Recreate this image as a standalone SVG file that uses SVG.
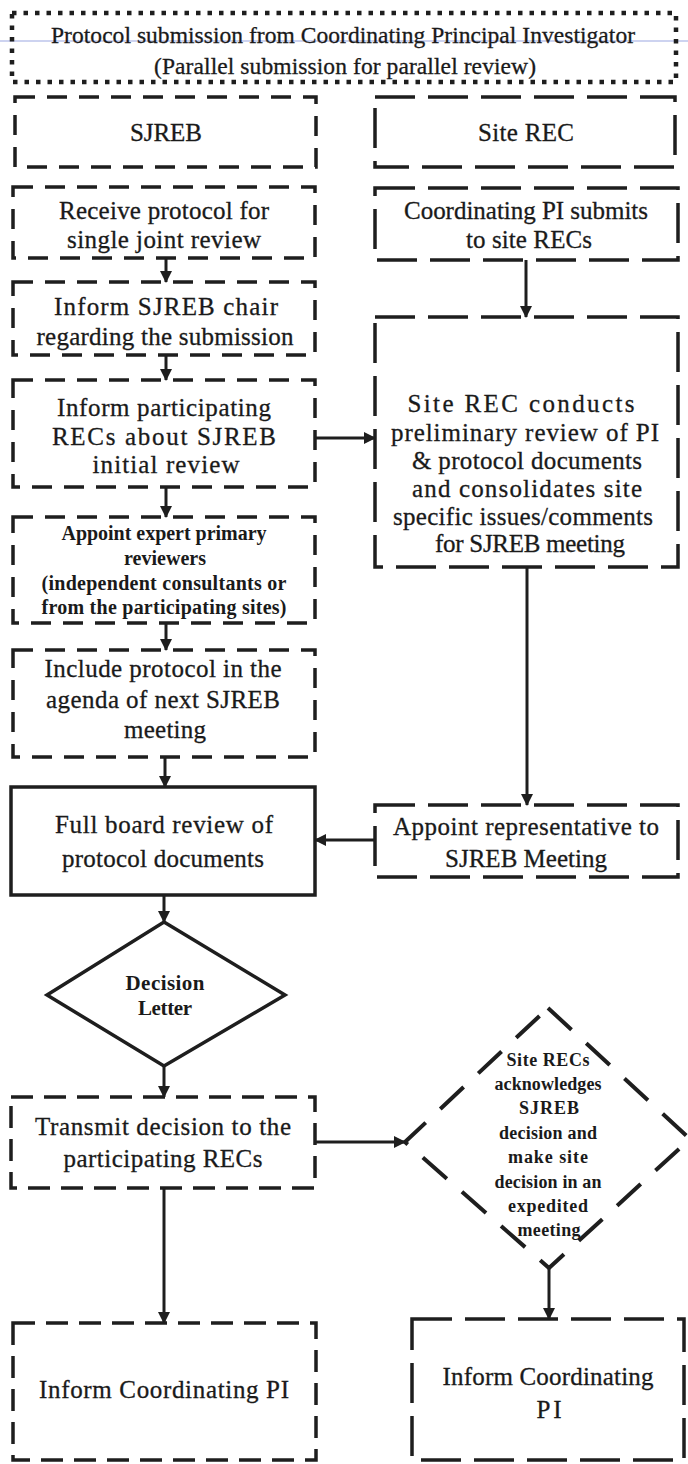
<svg xmlns="http://www.w3.org/2000/svg" width="688" height="1464" viewBox="0 0 688 1464">
<style>
.t{font-family:"Liberation Serif","Times New Roman",serif;font-size:25px;fill:#1a1a1a;stroke:#1a1a1a;stroke-width:0.3;text-anchor:middle}
.ttl{font-size:23.5px}
.b{font-weight:bold;font-size:20px;stroke-width:0}
.dl{font-weight:bold;font-size:21px;stroke-width:0}
.d2{font-weight:bold;font-size:18px;stroke-width:0}
.box{fill:none;stroke:#1e1e1e;stroke-width:3.5}
.dl-l{stroke-dasharray:20 12}
.dl-r{stroke-dasharray:40 13}
.dl-m{stroke-dasharray:22 11}
.solid{fill:none;stroke:#1e1e1e;stroke-width:3.5}
.arr{fill:none;stroke:#1e1e1e;stroke-width:3;marker-end:url(#ah)}
</style>
<defs>
<marker id="ah" markerUnits="userSpaceOnUse" markerWidth="12" markerHeight="12" refX="11" refY="6" orient="auto">
<path d="M0,0 L12,6 L0,12 z" fill="#1e1e1e"/>
</marker>
</defs>
<rect x="0" y="0" width="688" height="1464" fill="#ffffff"/>
<line x1="0" y1="41" x2="688" y2="41" stroke="#9ba8e2" stroke-width="1.2"/>

<g id="title">
<rect x="12" y="13" width="664" height="69" fill="none" stroke="#1e1e1e" stroke-width="4.5" stroke-dasharray="4.5 7"/>
<text class="t ttl" x="343" y="43" textLength="584" lengthAdjust="spacing">Protocol submission from Coordinating Principal Investigator</text>
<text class="t ttl" x="345" y="74" textLength="382" lengthAdjust="spacing">(Parallel submission for parallel review)</text>
</g>

<g id="sjreb">
<rect class="box dl-l" x="15" y="97" width="301" height="70"/>
<text class="t" x="166" y="141" textLength="72" lengthAdjust="spacing">SJREB</text>
</g>
<g id="siterec">
<rect class="box dl-r" x="375" y="97" width="300" height="70"/>
<text class="t" x="526" y="141" textLength="96" lengthAdjust="spacing">Site REC</text>
</g>

<g id="receive">
<rect class="box dl-l" x="13" y="187" width="302" height="71"/>
<text class="t" x="164" y="219" textLength="210" lengthAdjust="spacing">Receive protocol for</text>
<text class="t" x="164" y="248" textLength="194" lengthAdjust="spacing">single joint review</text>
</g>
<g id="informchair">
<rect class="box dl-l" x="13" y="282" width="302" height="73"/>
<text class="t" x="166" y="315" textLength="224" lengthAdjust="spacing">Inform SJREB chair</text>
<text class="t" x="165" y="345" textLength="257" lengthAdjust="spacing">regarding the submission</text>
</g>
<g id="informrecs">
<rect class="box dl-l" x="13" y="380" width="302" height="107"/>
<text class="t" x="164" y="416" textLength="214" lengthAdjust="spacing">Inform participating</text>
<text class="t" x="164" y="445" textLength="224" lengthAdjust="spacing">RECs about SJREB</text>
<text class="t" x="166" y="473" textLength="147" lengthAdjust="spacing">initial review</text>
</g>
<g id="appointexpert">
<rect class="box dl-l" x="13" y="517" width="302" height="106"/>
<text class="t b" x="164" y="540" textLength="205" lengthAdjust="spacing">Appoint expert primary</text>
<text class="t b" x="165" y="565" textLength="82" lengthAdjust="spacing">reviewers</text>
<text class="t b" x="164" y="590" textLength="245" lengthAdjust="spacing">(independent consultants or</text>
<text class="t b" x="164" y="614" textLength="245" lengthAdjust="spacing">from the participating sites)</text>
</g>
<g id="include">
<rect class="box dl-l" x="13" y="650" width="302" height="107"/>
<text class="t" x="163" y="677" textLength="237" lengthAdjust="spacing">Include protocol in the</text>
<text class="t" x="163" y="708" textLength="234" lengthAdjust="spacing">agenda of next SJREB</text>
<text class="t" x="165" y="738" textLength="82" lengthAdjust="spacing">meeting</text>
</g>
<g id="fullboard">
<rect class="solid" x="11" y="787" width="304" height="108"/>
<text class="t" x="164" y="833" textLength="218" lengthAdjust="spacing">Full board review of</text>
<text class="t" x="163" y="867" textLength="202" lengthAdjust="spacing">protocol documents</text>
</g>
<g id="decision">
<polygon class="solid" points="164,922 285,995 164,1066 47,995"/>
<text class="t dl" x="165" y="990" textLength="79" lengthAdjust="spacing">Decision</text>
<text class="t dl" x="165" y="1015" textLength="54" lengthAdjust="spacing">Letter</text>
</g>
<g id="transmit">
<rect class="box dl-m" x="11" y="1097" width="304" height="91"/>
<text class="t" x="163" y="1135" textLength="256" lengthAdjust="spacing">Transmit decision to the</text>
<text class="t" x="163" y="1167" textLength="199" lengthAdjust="spacing">participating RECs</text>
</g>
<g id="informpi-left">
<rect class="box dl-m" x="13" y="1323" width="303" height="137"/>
<text class="t" x="164" y="1398" textLength="250" lengthAdjust="spacing">Inform Coordinating PI</text>
</g>

<g id="coordsubmits">
<rect class="box dl-r" x="375" y="188" width="303" height="72"/>
<text class="t" x="526" y="219" textLength="244" lengthAdjust="spacing">Coordinating PI submits</text>
<text class="t" x="529" y="248" textLength="126" lengthAdjust="spacing">to site RECs</text>
</g>
<g id="siteconducts">
<rect class="box dl-r" x="375" y="317" width="303" height="250"/>
<text class="t" x="521" y="412" textLength="227" lengthAdjust="spacing">Site REC conducts</text>
<text class="t" x="525" y="441" textLength="268" lengthAdjust="spacing">preliminary review of PI</text>
<text class="t" x="527" y="469" textLength="230" lengthAdjust="spacing">&amp; protocol documents</text>
<text class="t" x="527" y="497" textLength="230" lengthAdjust="spacing">and consolidates site</text>
<text class="t" x="523" y="525" textLength="260" lengthAdjust="spacing">specific issues/comments</text>
<text class="t" x="530" y="552" textLength="190" lengthAdjust="spacing">for SJREB meeting</text>
</g>
<g id="appointrep">
<rect class="box dl-r" x="375" y="805" width="303" height="72"/>
<text class="t" x="526" y="835" textLength="266" lengthAdjust="spacing">Appoint representative to</text>
<text class="t" x="526" y="867" textLength="162" lengthAdjust="spacing">SJREB Meeting</text>
</g>
<g id="siteack">
<polygon points="548,1008 690,1139 549,1268 405,1142" fill="none" stroke="#1e1e1e" stroke-width="4" stroke-dasharray="32 20"/>
<text class="t d2" x="548" y="1066" textLength="83" lengthAdjust="spacing">Site RECs</text>
<text class="t d2" x="548" y="1090" textLength="107" lengthAdjust="spacing">acknowledges</text>
<text class="t d2" x="549" y="1114" textLength="60" lengthAdjust="spacing">SJREB</text>
<text class="t d2" x="548" y="1139" textLength="98" lengthAdjust="spacing">decision and</text>
<text class="t d2" x="548" y="1163" textLength="80" lengthAdjust="spacing">make site</text>
<text class="t d2" x="548" y="1188" textLength="107" lengthAdjust="spacing">decision in an</text>
<text class="t d2" x="548" y="1212" textLength="80" lengthAdjust="spacing">expedited</text>
<text class="t d2" x="549" y="1236" textLength="63" lengthAdjust="spacing">meeting</text>
</g>
<g id="informpi-right">
<rect class="box dl-r" x="412" y="1319" width="272" height="141"/>
<text class="t" x="548" y="1385" textLength="211" lengthAdjust="spacing">Inform Coordinating</text>
<text class="t" x="549" y="1418" textLength="25" lengthAdjust="spacing">PI</text>
</g>

<g id="connectors">
<line class="arr" x1="166" y1="258" x2="166" y2="282"/>
<line class="arr" x1="166" y1="355" x2="166" y2="380"/>
<line class="arr" x1="166" y1="487" x2="166" y2="517"/>
<line class="arr" x1="166" y1="623" x2="166" y2="650"/>
<line class="arr" x1="165" y1="757" x2="165" y2="787"/>
<line class="arr" x1="164" y1="895" x2="164" y2="922"/>
<line class="arr" x1="164" y1="1066" x2="164" y2="1097"/>
<line class="arr" x1="164" y1="1188" x2="164" y2="1323"/>
<line class="arr" x1="315" y1="438" x2="375" y2="438"/>
<line class="arr" x1="526" y1="260" x2="526" y2="317"/>
<line class="arr" x1="527" y1="567" x2="527" y2="805"/>
<line class="arr" x1="375" y1="840" x2="315" y2="840"/>
<line class="arr" x1="315" y1="1142" x2="405" y2="1142"/>
<line class="arr" x1="549" y1="1268" x2="549" y2="1319"/>
</g>
</svg>
